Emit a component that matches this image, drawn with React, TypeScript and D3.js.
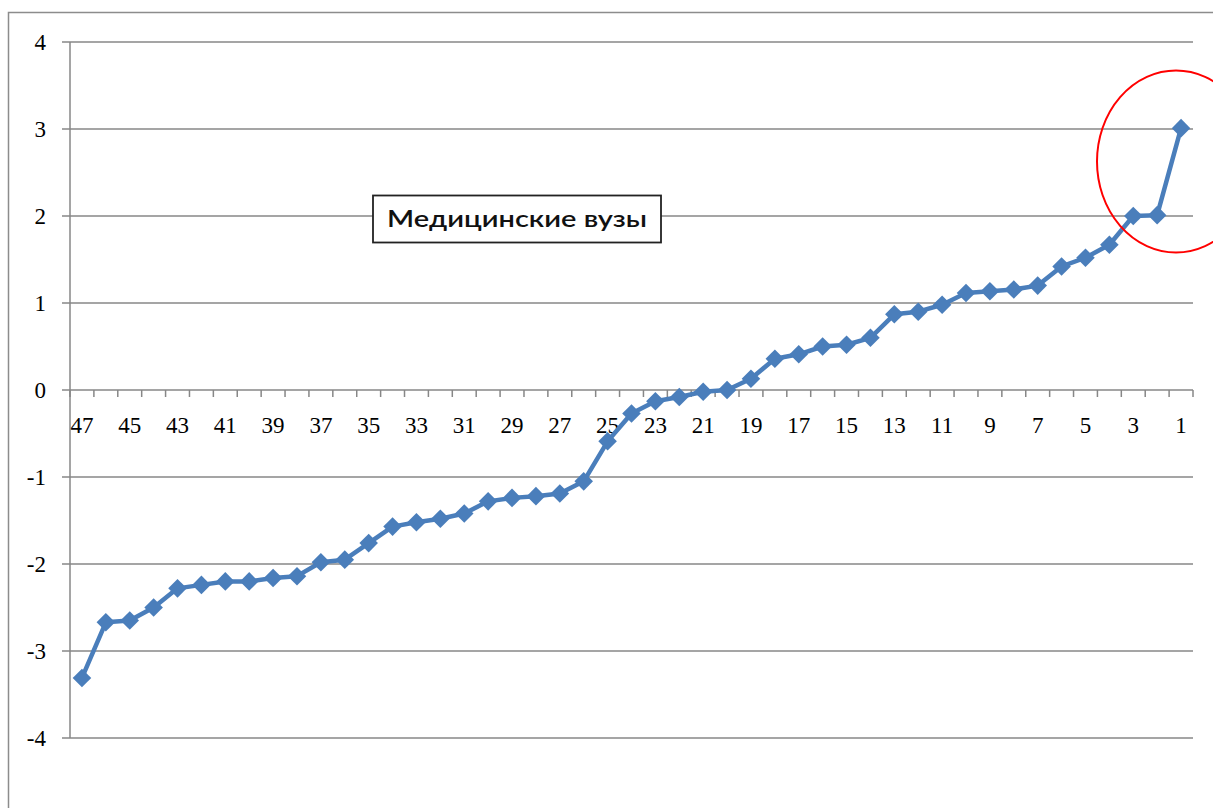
import React from "react";
import * as d3 from "d3";

const categories: number[] = [47,46,45,44,43,42,41,40,39,38,37,36,35,34,33,32,31,30,29,28,27,26,25,24,23,22,21,20,19,18,17,16,15,14,13,12,11,10,9,8,7,6,5,4,3,2,1];
const values: number[] = [-3.31,-2.67,-2.65,-2.5,-2.28,-2.24,-2.2,-2.2,-2.16,-2.14,-1.98,-1.95,-1.76,-1.57,-1.52,-1.48,-1.42,-1.28,-1.24,-1.22,-1.19,-1.05,-0.59,-0.27,-0.13,-0.08,-0.02,0.0,0.13,0.36,0.41,0.5,0.52,0.6,0.87,0.9,0.98,1.115,1.135,1.155,1.2,1.42,1.52,1.67,2.0,2.01,3.01];
const yTicks: number[] = [-4,-3,-2,-1,0,1,2,3,4];
const xLabels: number[] = [47,45,43,41,39,37,35,33,31,29,27,25,23,21,19,17,15,13,11,9,7,5,3,1];
const legendText = "Медицинские вузы";

export default function App() {
  const W = 1213, H = 808;
  const left = 70, right = 1193, top = 42, bottom = 738;
  const x = d3.scaleBand<number>().domain(categories).range([left, right]).padding(0);
  const y = d3.scaleLinear().domain([-4, 4]).range([bottom, top]);
  const cx = (c: number) => (x(c) as number) + x.bandwidth() / 2;
  const line = d3.line<number>().x((_, i) => cx(categories[i])).y((v) => y(v));
  const diamond = d3.symbol().type(d3.symbolDiamond2).size(220)();
  const gridColor = "#878787";
  const color = "#4A7EBB";
  const boundaries = d3.range(categories.length + 1).map((i) => left + i * x.bandwidth());

  return (
    <svg width={W} height={H} style={{ position: "absolute", left: 0, top: 0, background: "#fff" }}>
      <rect x={8.5} y={12.5} width={1300} height={900} fill="#fff" stroke="#8c8c8c" strokeWidth={1.5} />
      {yTicks.map((t) => (
        <g key={t}>
          {t !== 0 && (
            <line x1={left - 8} x2={right} y1={y(t)} y2={y(t)} stroke={gridColor} strokeWidth={1.5} />
          )}
          {t === 0 && <line x1={left - 8} x2={left} y1={y(t)} y2={y(t)} stroke={gridColor} strokeWidth={1.5} />}
          <text x={46} y={y(t)} dy="0.35em" textAnchor="end" fontFamily="Liberation Serif" fontSize={23} fill="#000">
            {t}
          </text>
        </g>
      ))}
      <line x1={left} x2={left} y1={top} y2={bottom} stroke={gridColor} strokeWidth={1.5} />
      <line x1={left} x2={right} y1={y(0)} y2={y(0)} stroke={gridColor} strokeWidth={1.5} />
      {boundaries.map((b, i) => (
        <line key={i} x1={b} x2={b} y1={y(0)} y2={y(0) + 7} stroke={gridColor} strokeWidth={1.5} />
      ))}
      {xLabels.map((c) => (
        <text key={c} x={cx(c)} y={425} dy="0.35em" textAnchor="middle" fontFamily="Liberation Serif" fontSize={23} fill="#000">
          {c}
        </text>
      ))}
      <g>
        <rect x={373} y={195.5} width={288} height={47} fill="#fff" stroke="#222" strokeWidth={1.8} />
        <text x={387} y={219} dy="0.35em" fontFamily="Lato" fontSize={22} fontWeight={600} fill="#111" textLength={260} lengthAdjust="spacingAndGlyphs">
          {legendText}
        </text>
      </g>
      <path d={line(values) || ""} fill="none" stroke={color} strokeWidth={4.5} strokeLinejoin="round" />
      {values.map((v, i) => (
        <path key={i} d={diamond || ""} transform={`translate(${cx(categories[i])},${y(v)})`} fill={color} />
      ))}
      <ellipse cx={1176} cy={161.5} rx={79} ry={91} fill="none" stroke="#ff0000" strokeWidth={2} />
    </svg>
  );
}
